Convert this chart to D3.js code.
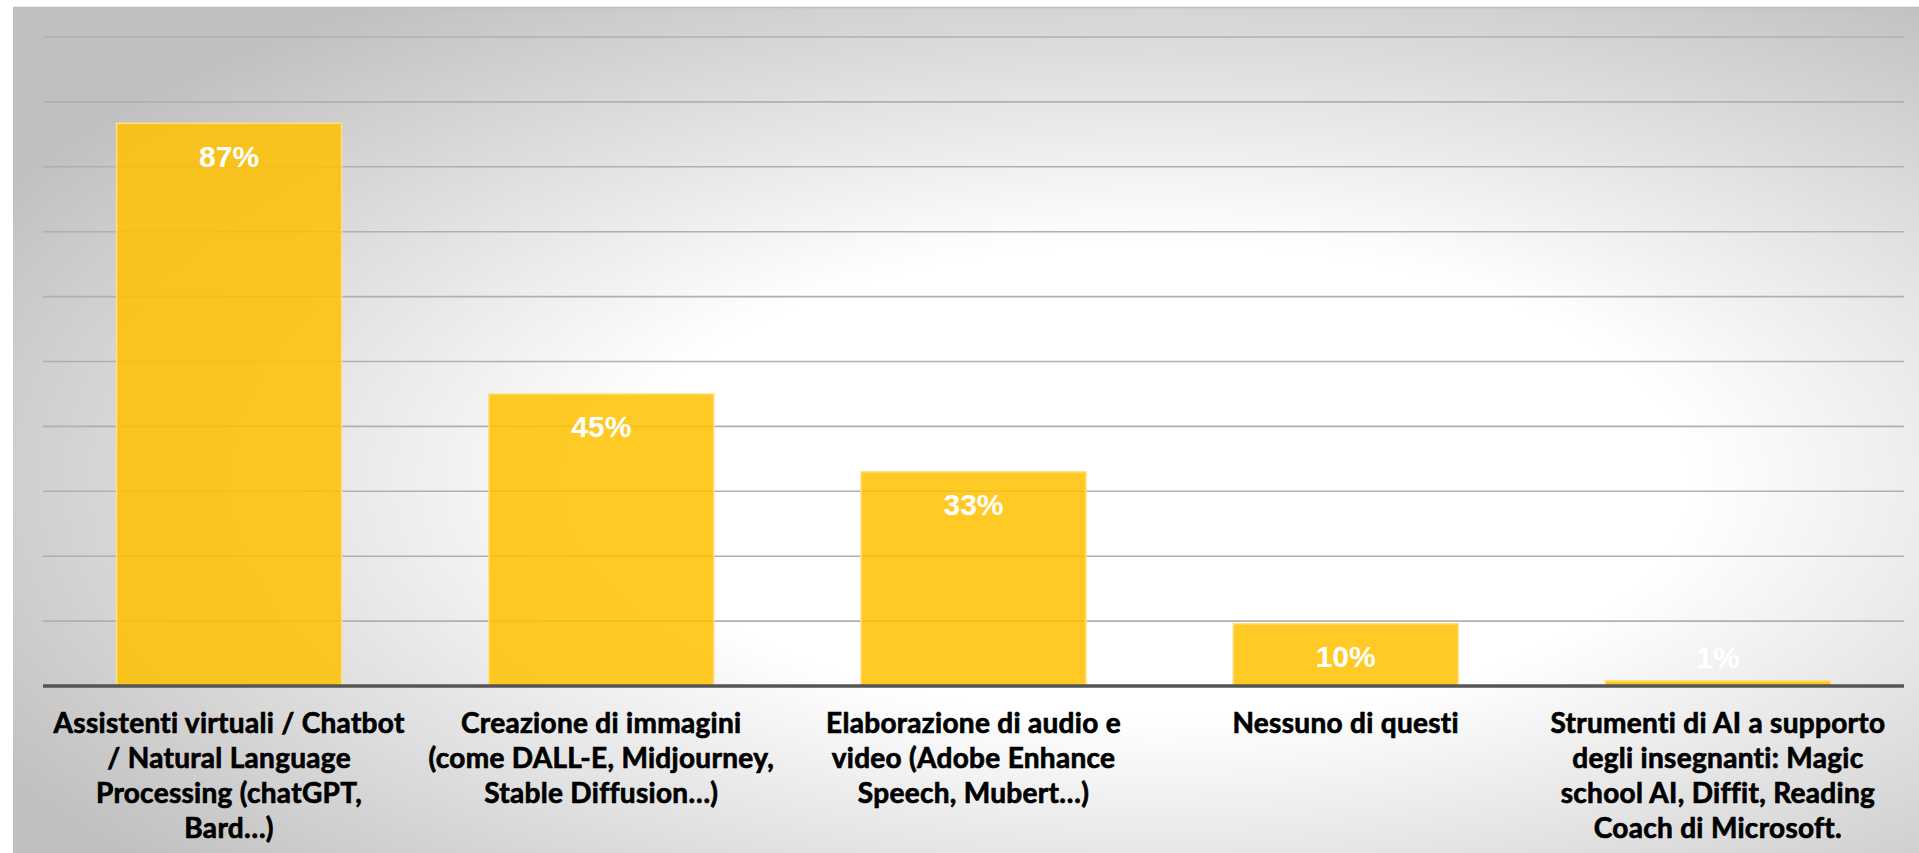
<!DOCTYPE html>
<html>
<head>
<meta charset="utf-8">
<script src="https://cdn.jsdelivr.net/npm/d3@7"></script>
<style>
  html, body { margin: 0; padding: 0; background: #ffffff; overflow: hidden; }
  svg { display: block; }
</style>
</head>
<body>
<svg id="chart" width="1919" height="853"></svg>
<script>
// ---- data ----
const categories = [
  "Assistenti virtuali / Chatbot\n/ Natural Language\nProcessing (chatGPT,\nBard…)",
  "Creazione di immagini\n(come DALL-E, Midjourney,\nStable Diffusion…)",
  "Elaborazione di audio e\nvideo (Adobe Enhance\nSpeech, Mubert…)",
  "Nessuno di questi",
  "Strumenti di AI a supporto\ndegli insegnanti: Magic\nschool AI, Diffit, Reading\nCoach di Microsoft."
];
const values = [0.867, 0.45, 0.33, 0.096, 0.008];
const gridTicks = [0.1, 0.2, 0.3, 0.4, 0.5, 0.6, 0.7, 0.8, 0.9, 1.0];

// ---- layout ----
const W = 1919, H = 853;
const plot = { left: 43, right: 1904, top: 37, bottom: 686 };

const svg = d3.select("#chart");
const defs = svg.append("defs");

const grad = defs.append("radialGradient")
  .attr("id", "bg")
  .attr("cx", 0.6).attr("cy", 0.56).attr("r", 0.7)
  .attr("fx", 0.6).attr("fy", 0.56);
grad.append("stop").attr("offset", 0).attr("stop-color", "#ffffff");
grad.append("stop").attr("offset", 0.4).attr("stop-color", "#ffffff");
grad.append("stop").attr("offset", 1).attr("stop-color", "#c0c0c0");

svg.append("rect")
  .attr("x", 13).attr("y", 7)
  .attr("width", W - 13).attr("height", H - 7)
  .attr("fill", "url(#bg)");
svg.append("line")
  .attr("x1", 13).attr("x2", W).attr("y1", 7.5).attr("y2", 7.5)
  .attr("stroke", "#bdbdbd").attr("stroke-width", 1.5);

const x = d3.scaleBand()
  .domain(d3.range(categories.length))
  .range([plot.left, plot.right])
  .paddingInner(0.3955)
  .paddingOuter(0.3955 / 2);

const y = d3.scaleLinear().domain([0, 1]).range([plot.bottom, plot.top]);

// gridlines
svg.append("g").selectAll("line")
  .data(gridTicks)
  .join("line")
  .attr("x1", plot.left).attr("x2", plot.right)
  .attr("y1", d => y(d)).attr("y2", d => y(d))
  .attr("stroke", "#b0b0b0")
  .attr("stroke-width", 1.6);

// bars
svg.append("g").selectAll("rect")
  .data(values)
  .join("rect")
  .attr("x", (d, i) => x(i))
  .attr("width", x.bandwidth())
  .attr("y", d => y(d))
  .attr("height", d => y(0) - y(d))
  .attr("fill", "#ffc000")
  .attr("fill-opacity", 0.85)
  .attr("stroke", "#ffdf80")
  .attr("stroke-width", 1.5);

// axis baseline
svg.append("line")
  .attr("x1", plot.left).attr("x2", plot.right)
  .attr("y1", y(0)).attr("y2", y(0))
  .attr("stroke", "#555555")
  .attr("stroke-width", 3.5);

// value labels
const fmt = d3.format(".0%");
svg.append("g").selectAll("text")
  .data(values)
  .join("text")
  .attr("x", (d, i) => x(i) + x.bandwidth() / 2)
  .attr("y", d => Math.min(y(d) + 43.5, y(0) - 18))
  .attr("text-anchor", "middle")
  .attr("font-family", "'Liberation Sans', Arial, sans-serif")
  .attr("font-weight", "bold")
  .attr("font-size", 30)
  .attr("fill", "#ffffff")
  .text(d => fmt(d));

// category labels
const catG = svg.append("g");
categories.forEach((c, i) => {
  const t = catG.append("text")
    .attr("x", x(i) + x.bandwidth() / 2)
    .attr("y", 733)
    .attr("text-anchor", "middle")
    .attr("font-family", "Lato, 'Open Sans', sans-serif")
    .attr("font-weight", "bold")
    .attr("font-size", 28)
    .attr("fill", "#000000")
    .attr("stroke", "#000000")
    .attr("stroke-width", 0.7)
    .attr("letter-spacing", 0.3);
  c.split("\n").forEach((line, j) => {
    t.append("tspan")
      .attr("x", x(i) + x.bandwidth() / 2)
      .attr("y", 733 + j * 35)
      .text(line);
  });
});
</script>
</body>
</html>
